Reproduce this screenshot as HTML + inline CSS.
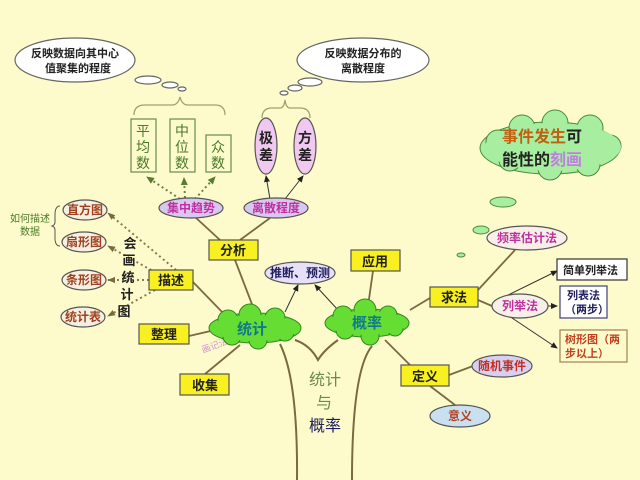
<!DOCTYPE html>
<html><head><meta charset="utf-8"><style>
html,body{margin:0;padding:0;background:#fdfbcb;}
svg{display:block;font-family:"Liberation Sans","Noto Sans CJK SC",sans-serif;}
.b{font-weight:bold;}
</style></head><body>
<svg width="640" height="480" viewBox="0 0 640 480" xmlns="http://www.w3.org/2000/svg">
<defs>
<marker id="a" markerWidth="8" markerHeight="8" refX="6" refY="4" orient="auto" markerUnits="userSpaceOnUse"><path d="M0,1 L7,4 L0,7 Z" fill="#222"/></marker>
<marker id="g" markerWidth="9" markerHeight="9" refX="7" refY="4.5" orient="auto" markerUnits="userSpaceOnUse"><path d="M0,1 L8,4.5 L0,8 Z" fill="#5a7a30"/></marker>
<marker id="d" markerWidth="9" markerHeight="9" refX="7" refY="4.5" orient="auto" markerUnits="userSpaceOnUse"><path d="M0,1.5 L8,4.5 L0,7.5 Z" fill="#7a6a40"/></marker>
</defs>
<rect width="640" height="480" fill="#fdfbcb"/>
<!-- thought clouds -->
<g fill="#fff" stroke="#666" stroke-width="1.2">
<ellipse cx="75" cy="60" rx="60" ry="22"/>
<ellipse cx="148" cy="80" rx="13" ry="4"/><ellipse cx="170" cy="85" rx="8" ry="3"/><ellipse cx="182" cy="89" rx="4" ry="2"/>
<ellipse cx="363" cy="60" rx="66" ry="22"/>
<ellipse cx="310" cy="82" rx="12" ry="4"/><ellipse cx="295" cy="88" rx="7" ry="3"/><ellipse cx="284" cy="93" rx="4" ry="2"/>
</g>
<text x="75" y="57" font-size="11" text-anchor="middle" class="b" fill="#222">反映数据向其中心</text>
<text x="78" y="72" font-size="11" text-anchor="middle" class="b" fill="#222">值聚集的程度</text>
<text x="363" y="57" font-size="11" text-anchor="middle" class="b" fill="#222">反映数据分布的</text>
<text x="363" y="72" font-size="11" text-anchor="middle" class="b" fill="#222">离散程度</text>
<!-- braces -->
<path d="M134,115 Q134,105 145,105 L172,105 Q178,105 180,97 Q182,105 188,105 L215,105 Q225,105 225,115" fill="none" stroke="#a0a070" stroke-width="1.3"/>
<path d="M262,118 Q262,108 272,108 L280,108 Q284,108 285,100 Q286,108 290,108 L300,108 Q310,108 310,118" fill="none" stroke="#a0a070" stroke-width="1.3"/>
<!-- green boxes -->
<g fill="#fdfbcb" stroke="#6a8a50" stroke-width="1.2"><rect x="131" y="119" width="25" height="53"/><rect x="170" y="119" width="25" height="53"/><rect x="206" y="135" width="25" height="37"/></g>
<g fill="#4a7a2a" font-size="14" text-anchor="middle"><text x="143" y="136">平</text><text x="143" y="152">均</text><text x="143" y="168">数</text>
<text x="182" y="136">中</text><text x="182" y="152">位</text><text x="182" y="168">数</text>
<text x="218" y="152">众</text><text x="218" y="168">数</text></g>
<!-- pink ellipses -->
<g fill="#f0c8f0" stroke="#555" stroke-width="1.2"><ellipse cx="266" cy="146" rx="11" ry="28"/><ellipse cx="305" cy="146" rx="11" ry="28"/></g>
<g font-size="14" text-anchor="middle" class="b" fill="#222"><text x="266" y="143">极</text><text x="266" y="160">差</text><text x="305" y="143">方</text><text x="305" y="160">差</text></g>
<!-- connectors -->
<g stroke="#6a8040" stroke-width="2" stroke-dasharray="2,3" fill="none" marker-end="url(#g)">
<line x1="180" y1="199" x2="147" y2="177"/><line x1="185" y1="198" x2="184" y2="178"/><line x1="195" y1="199" x2="215" y2="177"/></g>
<g stroke="#333" stroke-width="1" marker-end="url(#a)"><line x1="270" y1="199" x2="266" y2="176"/><line x1="285" y1="199" x2="303" y2="176"/>
<line x1="285" y1="312" x2="298" y2="285"/><line x1="338" y1="310" x2="315" y2="285"/>
<line x1="498" y1="300" x2="557" y2="271"/><line x1="510" y1="306" x2="557" y2="306"/><line x1="503" y1="312" x2="557" y2="348"/></g>
<g stroke="#7a6a40" stroke-width="1.8" fill="none">
<line x1="195" y1="217" x2="220" y2="240"/><line x1="270" y1="218" x2="240" y2="240"/>
<line x1="235" y1="260" x2="255" y2="312"/><line x1="193" y1="282" x2="225" y2="315"/>
<line x1="189" y1="336" x2="215" y2="330"/><line x1="205" y1="374" x2="240" y2="345"/>
<line x1="373" y1="271" x2="368" y2="306"/><line x1="410" y1="310" x2="430" y2="298"/>
<line x1="478" y1="290" x2="515" y2="250"/><line x1="478" y1="300" x2="492" y2="306"/>
<line x1="385" y1="340" x2="410" y2="365"/><line x1="449" y1="375" x2="473" y2="366"/><line x1="430" y1="386" x2="455" y2="405"/>
</g>
<g stroke="#8a7a50" stroke-width="2" stroke-dasharray="2,3" fill="none" marker-end="url(#d)">
<line x1="176" y1="270" x2="108" y2="213"/><line x1="160" y1="275" x2="108" y2="246"/><line x1="149" y1="280" x2="108" y2="280"/><line x1="155" y1="290" x2="108" y2="316"/></g>
<!-- trunk -->
<g stroke="#7a6a40" stroke-width="2" fill="none">
<path d="M280,344 Q298,380 297,480"/><path d="M372,346 Q352,370 352,480"/>
<path d="M295,340 Q310,345 318,360 Q324,350 338,340"/></g>
<!-- left ellipses -->
<g fill="#f6f0e0" stroke="#555" stroke-width="1.2"><ellipse cx="85" cy="210" rx="22" ry="10"/><ellipse cx="84" cy="242" rx="22" ry="10"/><ellipse cx="84" cy="280" rx="22" ry="10"/><ellipse cx="83" cy="317" rx="22" ry="10"/></g>
<g font-size="12" text-anchor="middle" fill="#a04020" class="b"><text x="85" y="214">直方图</text><text x="84" y="246">扇形图</text><text x="84" y="284">条形图</text><text x="83" y="321">统计表</text></g>
<text x="30" y="222" font-size="10" text-anchor="middle" fill="#4a7a2a">如何描述</text>
<text x="30" y="235" font-size="10" text-anchor="middle" fill="#4a7a2a">数据</text>
<path d="M60,206 Q55,206 55,215 L55,222 Q55,225 52,226 Q55,227 55,230 L55,238 Q55,246 60,246" fill="none" stroke="#555"/>
<g font-size="13" text-anchor="middle" class="b" fill="#222"><text x="130" y="248">会</text><text x="129" y="265">画</text><text x="128" y="282">统</text><text x="127" y="299">计</text><text x="124" y="316">图</text></g>
<!-- top ellipses -->
<g fill="#d8c8f0" stroke="#555" stroke-width="1.2"><ellipse cx="191" cy="208" rx="32" ry="10"/><ellipse cx="276" cy="208" rx="32" ry="10"/><ellipse cx="300" cy="273" rx="35" ry="11" fill="#e8e0f8"/></g>
<g font-size="12" text-anchor="middle" class="b"><text x="191" y="212" fill="#c030a0">集中趋势</text><text x="276" y="212" fill="#c030a0">离散程度</text><text x="300" y="277" fill="#202060">推断、预测</text></g>
<!-- yellow boxes -->
<g fill="#f8f020" stroke="#555" stroke-width="1.2">
<rect x="209" y="240" width="49" height="20"/><rect x="149" y="270" width="44" height="20"/><rect x="139" y="324" width="50" height="20"/><rect x="180" y="374" width="49" height="21"/>
<rect x="351" y="250" width="49" height="21"/><rect x="430" y="287" width="48" height="20"/><rect x="401" y="365" width="48" height="21"/></g>
<g font-size="13" text-anchor="middle" class="b" fill="#222"><text x="233" y="255">分析</text><text x="171" y="285">描述</text><text x="164" y="339">整理</text><text x="205" y="390">收集</text><text x="375" y="266">应用</text><text x="454" y="302">求法</text><text x="425" y="381">定义</text></g>
<text x="203" y="353" font-size="9" fill="#d090d0" transform="rotate(-20 203 353)">画记法</text>
<!-- green clouds -->
<g fill="#66dd33" stroke="#338822" stroke-width="1">
<ellipse cx="255" cy="328" rx="46" ry="15"/><circle cx="228" cy="320" r="10"/><circle cx="250" cy="315" r="11"/><circle cx="275" cy="318" r="10"/><circle cx="285" cy="332" r="9"/><circle cx="232" cy="336" r="9"/><circle cx="258" cy="340" r="9"/>
<ellipse cx="367" cy="323" rx="42" ry="14"/><circle cx="343" cy="316" r="10"/><circle cx="365" cy="310" r="11"/><circle cx="388" cy="315" r="9"/><circle cx="395" cy="328" r="8"/><circle cx="345" cy="330" r="9"/><circle cx="370" cy="336" r="9"/>
</g>
<g fill="#66dd33"><ellipse cx="255" cy="328" rx="44" ry="13"/><ellipse cx="367" cy="323" rx="40" ry="12"/></g>
<text x="252" y="334" font-size="15" text-anchor="middle" fill="#107a8a" class="b">统计</text>
<text x="367" y="328" font-size="15" text-anchor="middle" fill="#107a8a" class="b">概率</text>
<!-- trunk text -->
<g font-size="16" text-anchor="middle"><text x="325" y="385" fill="#6a8a50">统计</text><text x="324" y="408" fill="#6a8a50">与</text><text x="325" y="431" fill="#202060">概率</text></g>
<!-- big cloud -->
<g fill="#a8eea0" stroke="#4a8a3a" stroke-width="1">
<ellipse cx="550" cy="148" rx="70" ry="26"/><circle cx="498" cy="142" r="12"/><circle cx="522" cy="128" r="13"/><circle cx="555" cy="123" r="13"/><circle cx="590" cy="128" r="13"/><circle cx="610" cy="146" r="11"/><circle cx="588" cy="164" r="12"/><circle cx="550" cy="168" r="12"/><circle cx="510" cy="160" r="11"/>
</g>
<ellipse cx="553" cy="147" rx="68" ry="24" fill="#a8eea0"/>
<ellipse cx="503" cy="202" rx="13" ry="5" fill="#a8eea0" stroke="#4a8a3a"/>
<ellipse cx="481" cy="230" rx="8" ry="4" fill="#a8eea0" stroke="#4a8a3a"/>
<ellipse cx="461" cy="255" rx="4" ry="2" fill="#a8eea0" stroke="#4a8a3a"/>
<text x="502" y="142" font-size="16" class="b" fill="#c06010">事件发生<tspan fill="#222">可</tspan></text>
<text x="502" y="165" font-size="16" class="b" fill="#222">能性的<tspan fill="#c080e0">刻画</tspan></text>
<!-- right ellipses/boxes -->
<g stroke="#555" stroke-width="1.2"><ellipse cx="527" cy="238" rx="40" ry="12" fill="#f8f0e8"/><ellipse cx="520" cy="306" rx="28" ry="12" fill="#f8f0e8"/><ellipse cx="502" cy="366" rx="30" ry="11" fill="#d8d0f0"/><ellipse cx="460" cy="416" rx="30" ry="11" fill="#c8e0f0"/></g>
<g font-size="12" text-anchor="middle" class="b"><text x="527" y="242" fill="#c030a0">频率估计法</text><text x="520" y="310" fill="#c030a0">列举法</text><text x="502" y="370" fill="#c03020">随机事件</text><text x="460" y="420" fill="#b04020">意义</text></g>
<g fill="#fff" stroke="#333" stroke-width="1.2"><rect x="557" y="259" width="70" height="21"/><rect x="560" y="286" width="47" height="32" stroke="#404080"/><rect x="560" y="330" width="67" height="32" stroke="#a08050" fill="#fdfbcb"/></g>
<g font-size="11" class="b"><text x="563" y="274" fill="#222">简单列举法</text><text x="567" y="299" fill="#202060">列表法</text><text x="565" y="313" fill="#202060">（两步）</text>
<text x="565" y="343" fill="#c04020">树形图（两</text><text x="565" y="357" fill="#c04020">步以上）</text></g>
</svg>
</body></html>
